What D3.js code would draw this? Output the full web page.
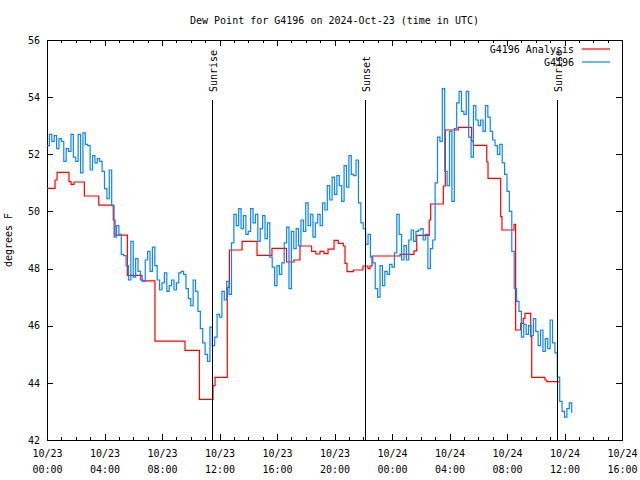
<!DOCTYPE html>
<html><head><meta charset="utf-8">
<script src="https://cdn.jsdelivr.net/npm/d3@7"></script>
<style>
body{margin:0;background:#fff}
svg{display:block}
text{font-family:"DejaVu Sans Mono",monospace;font-size:10px;fill:#000}
</style>
</head><body>
<svg id="c" width="640" height="480"></svg>
<script>
// ---- data ----
const chartTitle = "Dew Point for G4196 on 2024-Oct-23 (time in UTC)";
const yLabel = "degrees F";
const tickDates = ["10/23","10/23","10/23","10/23","10/23","10/23","10/24","10/24","10/24","10/24","10/24"];
const tickTimes = ["00:00","04:00","08:00","12:00","16:00","20:00","00:00","04:00","08:00","12:00","16:00"];
const tickHours = [0,4,8,12,16,20,24,28,32,36,40];
const yTicks = [42,44,46,48,50,52,54,56];
const eventNames = ["Sunrise","Sunset","Sunrise"];
const eventHours = [11.48, 22.12, 35.48];

// Analysis (hours since 10/23 00:00 UTC, value)
const analysisHours = [0,0.56,0.7,1.53,1.67,1.88,2.6,3.6,4.61,4.73,5.59,6.61,7.51,9.6,10.6,11.55,11.69,12.54,12.69,13.57,14.61,15.65,16.66,17.18,17.6,18.41,18.7,18.99,19.27,19.55,19.97,20.26,20.61,20.73,20.87,21.31,21.98,22.33,22.47,22.61,24.56,25.53,25.72,26.59,26.69,27.57,27.71,28.61,29.54,29.66,30.59,30.68,31.56,31.65,32.49,32.6,32.95,33.13,33.25,33.65,33.72,34.64,34.76,35.62];
const analysisValues = [50.81,51.1,51.37,51.04,50.95,51.03,50.54,50.22,49.7,49.17,47.76,47.57,45.46,45.14,43.42,43.9,44.19,47.34,48.65,48.95,48.46,48.71,48.23,48.3,48.79,48.6,48.51,48.6,48.52,48.68,48.99,48.88,48.79,48.18,47.89,47.95,48.09,48.0,48.09,48.44,48.5,48.62,49.16,49.7,50.26,50.89,52.85,52.94,52.46,52.31,51.73,51.16,49.82,49.35,49.55,45.85,46.08,46.26,46.43,45.62,44.19,44.1,44.04,44.04];

// Observations, every 10 minutes from 10/23 00:00 UTC
const obsStepMinutes = 10;
const obsValues = [
52.3,52.7,52.45,52.65,52.2,52.55,
52.45,51.75,52.2,52.1,52.7,51.9,
51.75,52.7,51.35,52.75,52.35,52.3,
51.45,51.95,51.7,51.85,51.75,51.4,
50.8,50.45,51.45,50.2,49.1,49.5,
49.2,48.5,48.45,48.1,47.6,48.95,
47.7,48.35,47.9,47.6,47.55,48.3,
48.6,47.9,48.75,48.1,47.6,47.25,
47.5,47.85,47.2,47.4,47.6,47.25,
47.5,47.85,47.9,47.8,47.3,46.95,
46.7,47.6,47.2,46.5,45.9,45.4,
45.0,44.75,45.95,45.3,45.6,46.4,
46.3,47.2,46.9,47.55,47.1,48.9,
49.9,49.5,50.1,49.4,49.85,49.2,
49.3,50.1,49.6,49.9,48.95,49.4,
49.85,49.05,49.6,48.4,48.05,47.4,
48.1,47.8,48.2,48.9,49.45,47.3,
49.3,48.7,49.4,48.8,49.7,49.3,
50.3,49.5,49.9,49.1,49.6,49.9,
49.5,50.3,50.05,50.9,50.4,51.2,
50.6,51.25,50.9,50.35,51.6,50.85,
51.95,51.3,51.25,51.8,50.3,49.6,
49.4,48.85,49.2,48.4,48.2,47.3,
47.0,48.1,47.4,47.9,47.8,48.15,
48.05,48.55,49.9,49.2,48.3,48.8,
48.3,49.0,49.35,48.95,49.3,49.35,
49.4,49.0,49.2,48.0,48.7,49.0,
51.0,52.6,52.45,54.3,51.4,50.9,
52.8,50.35,52.9,53.8,54.2,53.5,
53.4,54.2,52.6,51.9,53.7,53.2,
53.0,53.2,52.8,53.7,53.3,52.8,
52.5,52.3,52.0,52.35,51.7,51.3,
50.7,50.0,48.6,47.3,46.85,46.5,
45.6,46.05,45.7,46.0,45.65,46.25,
45.8,45.3,45.85,45.1,45.55,45.2,
46.2,45.4,45.05,44.2,43.35,43.0,
42.8,43.1,43.3,42.95
];
const seriesNames = ["G4196 Analysis","G4196"];
const seriesColors = ["#ff0000","#0a84ff"];

// ---- chart ----
const svg = d3.select("#c");
const L=47, R=622, T=40, B=440;
const x = d3.scaleLinear().domain([0,40]).range([L,R]);
const y = d3.scaleLinear().domain([42,56]).range([B,T]);

const analysis = analysisHours.map((h,i)=>({h, v: analysisValues[i]}));
const obs = obsValues.map((v,i)=>({h: i*obsStepMinutes/60, v}));

function styleAxis(g){
  g.attr("font-family",'"DejaVu Sans Mono",monospace').attr("font-size",10);
  g.select(".domain").remove();
  g.selectAll("line").attr("stroke","#000").attr("shape-rendering","crispEdges");
}
const minorHours = d3.range(0,41,1).filter(h=>h%4!==0);

// minor ticks
svg.append("g").attr("transform",`translate(0,${B})`)
  .call(d3.axisBottom(x).tickValues(minorHours).tickSizeInner(-3).tickSizeOuter(0).tickFormat(""))
  .call(styleAxis);
svg.append("g").attr("transform",`translate(0,${T})`)
  .call(d3.axisTop(x).tickValues(minorHours).tickSizeInner(-3).tickSizeOuter(0).tickFormat(""))
  .call(styleAxis);

// major x
const gx = svg.append("g").attr("transform",`translate(0,${B})`)
  .call(d3.axisBottom(x).tickValues(tickHours).tickSizeInner(-6).tickSizeOuter(0).tickPadding(10)
    .tickFormat((d,i)=>tickDates[i]))
  .call(styleAxis);
gx.selectAll(".tick text").each(function(d,i){
  const t = d3.select(this);
  t.append("tspan").attr("x",0).attr("dy","1.6em").text(tickTimes[i]);
});
svg.append("g").attr("transform",`translate(0,${T})`)
  .call(d3.axisTop(x).tickValues(tickHours).tickSizeInner(-6).tickSizeOuter(0).tickFormat(""))
  .call(styleAxis);

// y axes
svg.append("g").attr("transform",`translate(${L},0)`)
  .call(d3.axisLeft(y).tickValues(yTicks).tickSizeInner(-6).tickSizeOuter(0).tickPadding(7))
  .call(styleAxis);
svg.append("g").attr("transform",`translate(${R},0)`)
  .call(d3.axisRight(y).tickValues(yTicks).tickSizeInner(-6).tickSizeOuter(0).tickFormat(""))
  .call(styleAxis);

// frame
svg.append("rect").attr("x",L).attr("y",T).attr("width",R-L).attr("height",B-T)
  .attr("fill","none").attr("stroke","#000").attr("shape-rendering","crispEdges");

// series
const line = d3.line().x(d=>x(d.h)).y(d=>y(d.v)).curve(d3.curveStepAfter);
svg.append("path").datum(analysis).attr("d",line).attr("fill","none")
  .attr("stroke",seriesColors[0]).attr("stroke-width",1.2);
svg.append("path").datum(obs).attr("d",line).attr("fill","none")
  .attr("stroke",seriesColors[1]).attr("stroke-width",1.2);

// events
eventHours.forEach((h,i)=>{
  const ex = Math.round(x(h))+0.5;
  svg.append("line").attr("x1",ex).attr("x2",ex).attr("y1",100).attr("y2",B)
    .attr("stroke","#000").attr("stroke-width",1);
  svg.append("text").attr("transform",`translate(${ex+4},92) rotate(-90)`)
    .attr("text-anchor","start").text(eventNames[i]);
});

// title & labels
svg.append("text").attr("x",(L+R)/2).attr("y",24).attr("text-anchor","middle").text(chartTitle);
svg.append("text").attr("transform","translate(12,240) rotate(-90)").attr("text-anchor","middle").text(yLabel);

// legend
seriesNames.forEach((n,i)=>{
  const ly = 49 + i*13;
  svg.append("text").attr("x",574).attr("y",ly+4).attr("text-anchor","end").text(n);
  svg.append("line").attr("x1",582).attr("x2",610).attr("y1",ly).attr("y2",ly)
    .attr("stroke",seriesColors[i]).attr("stroke-width",1.2);
});
</script>
</body></html>
